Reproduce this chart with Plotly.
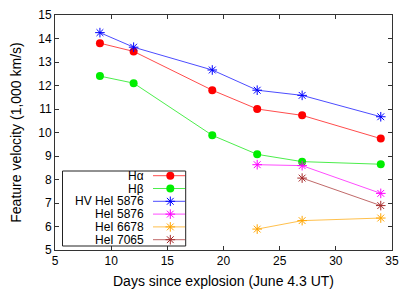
import plotly.graph_objects as go

# ---- data ----
days_h = [9, 12, 19, 23, 27, 34]
h_alpha = [13.8, 13.45, 11.8, 11.0, 10.73, 9.74]
h_beta = [12.4, 12.1, 9.88, 9.07, 8.76, 8.65]
hv_hei5876 = [14.25, 13.63, 12.66, 11.8, 11.58, 10.67]
days_he = [23, 27, 34]
hei5876 = [8.63, 8.59, 7.41]
hei6678 = [5.89, 6.25, 6.36]
days_7065 = [27, 34]
hei7065 = [8.06, 6.89]

names = ["H\u03b1", "H\u03b2", "HV HeI 5876", "HeI 5876", "HeI 6678", "HeI 7065"]
colors = ["#ff0000", "#00ee00", "#0000ff", "#ff00ff", "#ffa500", "#a52a2a"]
lcolors = ["rgba(255,0,0,0.7)", "rgba(0,230,0,0.7)", "rgba(0,0,255,0.7)",
           "rgba(255,0,255,0.7)", "rgba(255,165,0,0.7)", "rgba(165,42,42,0.7)"]
symbols = ["circle", "circle", "asterisk-open", "asterisk-open", "asterisk-open", "asterisk-open"]
xs = [days_h, days_h, days_h, days_he, days_he, days_7065]
ys = [h_alpha, h_beta, hv_hei5876, hei5876, hei6678, hei7065]

# page body has an 8px default margin: figure is drawn at (8, 8)
OFF = 8
W, H = 415 - OFF, 291 - OFF
ML, MR, MT, MB = 55 - OFF, 23, 15 - OFF, 41

fig = go.Figure()
for i in range(6):
    circ = symbols[i] == "circle"
    fig.add_trace(go.Scatter(
        x=xs[i], y=ys[i], mode="lines+markers", name=names[i],
        line=dict(color=lcolors[i], width=1),
        marker=dict(symbol=symbols[i], size=8, color=colors[i],
                    line=dict(color=colors[i], width=0 if circ else 1)),
        showlegend=False))

# custom legend (text on left, sample on right); coords = screen pixels
leg_rows = [175.7, 188.5, 201.3, 214.1, 226.9, 239.7]
for i in range(6):
    circ = symbols[i] == "circle"
    fig.add_trace(go.Scatter(
        x=[153, 185], y=[leg_rows[i], leg_rows[i]], mode="lines",
        line=dict(color=lcolors[i], width=1), xaxis="x2", yaxis="y2",
        showlegend=False, hoverinfo="skip"))
    fig.add_trace(go.Scatter(
        x=[170.3], y=[leg_rows[i]], mode="markers",
        marker=dict(symbol=symbols[i], size=8, color=colors[i],
                    line=dict(color=colors[i], width=0 if circ else 1)),
        xaxis="x2", yaxis="y2", showlegend=False, hoverinfo="skip"))
    fig.add_annotation(x=146, y=leg_rows[i], xref="x2", yref="y2", text=names[i],
                       showarrow=False, xanchor="right", yanchor="middle",
                       height=12, font=dict(size=12, color="#000"))
fig.add_shape(type="rect", xref="x2", yref="y2", x0=62.5, x1=185.7, y0=171, y1=246,
              line=dict(color="#222", width=1))

font = "Liberation Sans, Arial, sans-serif"
fig.update_layout(
    width=W, height=H, autosize=False,
    margin=dict(l=ML, r=MR, t=MT, b=MB),
    paper_bgcolor="white", plot_bgcolor="white",
    font=dict(family=font, size=12, color="#000"),
    showlegend=False,
    xaxis=dict(range=[5, 35], tickvals=[5, 10, 15, 20, 25, 30, 35],
               ticks="inside", ticklen=4, tickcolor="#333", mirror="ticks",
               showline=True, linecolor="#333", linewidth=1, showgrid=False,
               zeroline=False, automargin=False,
               title=dict(text="Days since explosion (June 4.3 UT)", standoff=8)),
    yaxis=dict(range=[5, 15], tickvals=list(range(5, 16)),
               ticks="inside", ticklen=4, tickcolor="#333", mirror="ticks",
               showline=True, linecolor="#333", linewidth=1, showgrid=False,
               zeroline=False, automargin=False,
               title=dict(text="Feature velocity (1,000 km/s)", standoff=15)),
    xaxis2=dict(range=[55, 392], overlaying="x", visible=False, domain=[0, 1]),
    yaxis2=dict(range=[250, 15], overlaying="y", visible=False, domain=[0, 1]),
)

fig.write_html("out.html")
